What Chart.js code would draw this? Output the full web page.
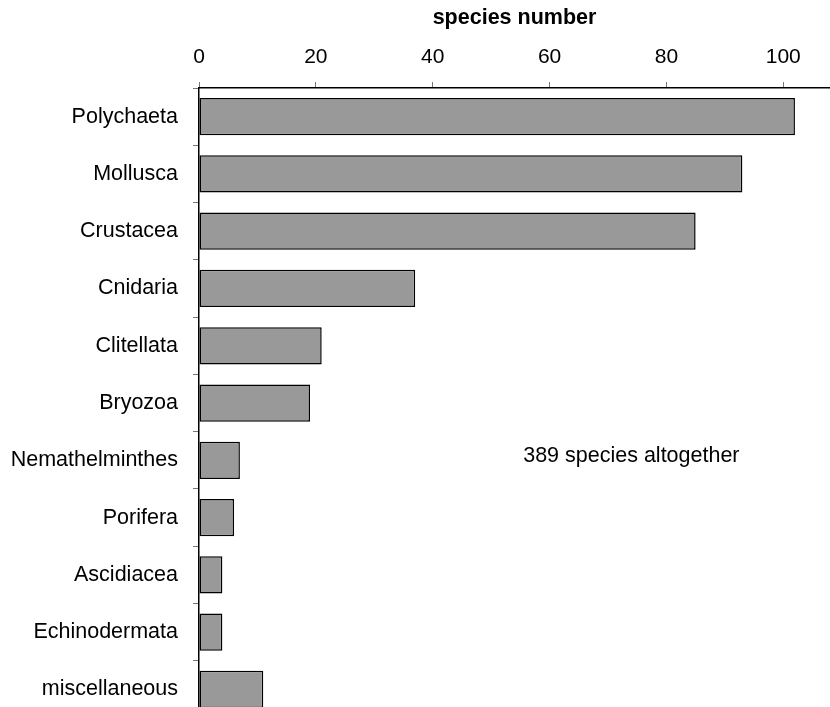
<!DOCTYPE html>
<html>
<head>
<meta charset="utf-8">
<title>species number</title>
<script src="https://cdn.jsdelivr.net/npm/chart.js@4.4.1/dist/chart.umd.min.js"></script>
<style>
  html, body { margin: 0; padding: 0; background: #fff; overflow: hidden; }
  canvas { display: block; }
</style>
</head>
<body>
<canvas id="speciesChart" width="830" height="746"></canvas>
<script>
// data
const groups = ['Polychaeta', 'Mollusca', 'Crustacea', 'Cnidaria', 'Clitellata', 'Bryozoa',
    'Nemathelminthes', 'Porifera', 'Ascidiacea', 'Echinodermata', 'miscellaneous'];
const speciesCounts = [102, 93, 85, 37, 21, 19, 7, 6, 4, 4, 11];
const xTicks = [0, 20, 40, 60, 80, 100];
const noteText = '389 species altogether';

const font = '"Liberation Sans", Arial, Helvetica, sans-serif';

// puts the total note inside the plot, next to Nemathelminthes
const notePlugin = {
    id: 'note',
    afterDraw(chart) {
        const ctx = chart.ctx;
        const x = chart.scales.x.getPixelForValue(74);
        const y = chart.scales.y.getPixelForValue(6) - 4;
        ctx.save();
        ctx.font = '21.5px ' + font;
        ctx.fillStyle = '#000';
        ctx.textAlign = 'center';
        ctx.textBaseline = 'middle';
        ctx.fillText(noteText, x, y);
        ctx.restore();
    }
};

function createChart() {
    const ctx = document.getElementById('speciesChart').getContext('2d');
    new Chart(ctx, {
        type: 'bar',
        data: {
            labels: groups,
            datasets: [{
                label: 'species number',
                data: speciesCounts,
                backgroundColor: '#999999',
                borderColor: '#000000',
                borderWidth: 1.5,
                borderSkipped: false,
                categoryPercentage: 1,
                barPercentage: 0.65
            }]
        },
        options: {
            indexAxis: 'y',
            responsive: false,
            animation: false,
            layout: { padding: 0 },
            plugins: {
                legend: { display: false },
                tooltip: { enabled: false }
            },
            scales: {
                x: {
                    position: 'top',
                    min: 0,
                    max: 108,
                    afterBuildTicks: axis => {
                        axis.ticks = xTicks.map(v => ({ value: v }));
                    },
                    afterFit: axis => { axis.height = 88; },
                    title: {
                        display: true,
                        text: 'species number',
                        color: '#000',
                        font: { family: font, size: 21.5, weight: 'bold' },
                        padding: { top: 5, bottom: 0 }
                    },
                    ticks: {
                        color: '#000',
                        font: { family: font, size: 21 },
                        padding: 12,
                        maxRotation: 0
                    },
                    grid: {
                        drawOnChartArea: false,
                        drawTicks: true,
                        tickLength: 6,
                        color: '#777'
                    },
                    border: { display: true, color: '#000', width: 1.5 }
                },
                y: {
                    afterFit: axis => { axis.width = 199; },
                    ticks: {
                        color: '#000',
                        font: { family: font, size: 21.5 },
                        padding: 15
                    },
                    grid: {
                        offset: true,
                        drawOnChartArea: false,
                        drawTicks: true,
                        tickLength: 6,
                        color: '#777'
                    },
                    border: { display: true, color: '#000', width: 1.5 }
                }
            }
        },
        plugins: [notePlugin]
    });
}

createChart();
</script>
</body>
</html>
